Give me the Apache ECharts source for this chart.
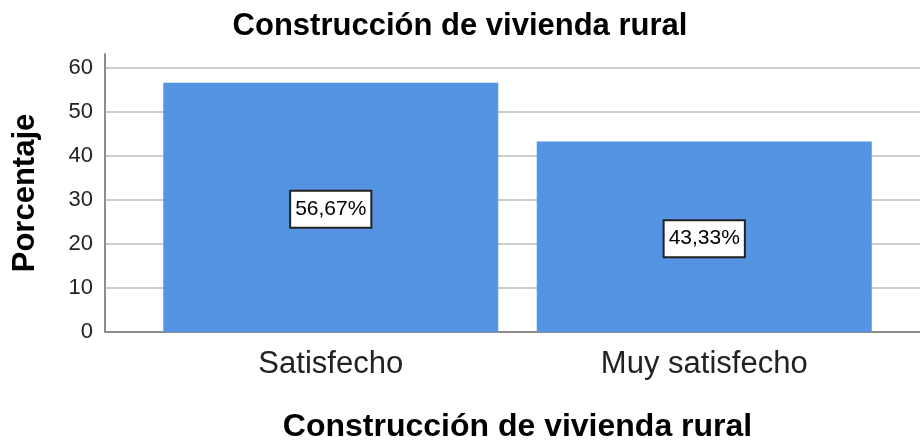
<!DOCTYPE html>
<html>
<head>
<meta charset="utf-8">
<script src="https://cdn.jsdelivr.net/npm/echarts@6/dist/echarts.min.js"></script>
<style>
  html, body { margin: 0; padding: 0; background: #fff; }
  #chart { width: 920px; height: 441px; }
</style>
</head>
<body>
<div id="chart"></div>
<script>
const categories = ['Satisfecho', 'Muy satisfecho'];
const percentages = [56.67, 43.33];
const chartTitle = 'Construcción de vivienda rural';
const yName = 'Porcentaje';

const FONT = '"Liberation Sans", Arial, sans-serif';
const yMax = 63.2; // axis line runs a bit above the 60 gridline

const myChart = echarts.init(document.getElementById('chart'));

const option = {
  backgroundColor: '#ffffff',
  animation: false,
  title: {
    text: chartTitle,
    left: 'center',
    top: 11,
    padding: 0,
    textStyle: { fontFamily: FONT, fontSize: 31, fontWeight: 'bold', color: '#000' }
  },
  grid: [
    // background grid: y axis, gridlines, bottom axis line
    { left: 105, right: 0, top: 54, bottom: 109, outerBoundsMode: 'none' },
    // bars
    { left: 144, width: 747, top: 54, bottom: 109, outerBoundsMode: 'none' }
  ],
  xAxis: [
    {
      type: 'category',
      gridIndex: 0,
      data: categories,
      axisLine: { show: true, lineStyle: { color: '#8c8c8c', width: 2 } },
      axisTick: { show: false },
      axisLabel: { show: false },
      splitLine: { show: false }
    },
    {
      type: 'category',
      gridIndex: 1,
      data: categories,
      name: chartTitle,
      nameLocation: 'middle',
      nameGap: 79,
      nameTextStyle: { fontFamily: FONT, fontSize: 32, fontWeight: 'bold', color: '#000' },
      axisLine: { show: false },
      axisTick: { show: false },
      axisLabel: { fontFamily: FONT, fontSize: 31, color: '#222', margin: 17 },
      splitLine: { show: false }
    }
  ],
  yAxis: [
    {
      type: 'value',
      gridIndex: 0,
      min: 0,
      max: yMax,
      interval: 10,
      name: yName,
      nameLocation: 'middle',
      nameGap: 64,
      nameTextStyle: { fontFamily: FONT, fontSize: 31, fontWeight: 'bold', color: '#000' },
      axisLine: { show: true, lineStyle: { color: '#8c8c8c', width: 2 } },
      axisTick: { show: false },
      axisLabel: {
        fontFamily: FONT, fontSize: 22, color: '#222', margin: 12,
        showMaxLabel: false,
        formatter: function (v) { return v % 10 === 0 ? String(v) : ''; }
      },
      splitLine: { show: true, showMaxLine: false, lineStyle: { color: '#cccccc', width: 2 } }
    },
    {
      type: 'value',
      gridIndex: 1,
      min: 0,
      max: yMax,
      show: false
    }
  ],
  series: [
    {
      type: 'bar',
      xAxisIndex: 1,
      yAxisIndex: 1,
      data: percentages,
      barWidth: 335,
      itemStyle: { color: '#5593e3' },
      label: {
        show: true,
        position: 'inside',
        offset: [0, 2],
        formatter: function (p) { return p.value.toFixed(2).replace('.', ',') + '%'; },
        fontFamily: FONT,
        fontSize: 21,
        color: '#000',
        backgroundColor: '#ffffff',
        borderColor: '#222',
        borderWidth: 2,
        padding: [7, 4, 7, 4]
      }
    }
  ]
};

myChart.setOption(option);
</script>
</body>
</html>
